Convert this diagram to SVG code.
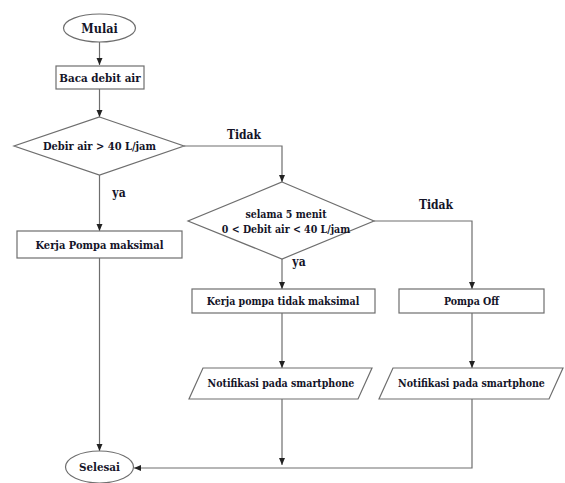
<svg xmlns="http://www.w3.org/2000/svg" width="565" height="483" viewBox="0 0 565 483">
<style>
.s{fill:#fff;stroke:#6e6e6e;stroke-width:1.2}
.t{font-family:'DejaVu Serif',serif;font-weight:700;fill:#141428;text-anchor:middle;font-stretch:condensed}
.c{fill:none;stroke:#6e6e6e;stroke-width:1.2}
</style>
<defs>
<marker id="a" markerWidth="8" markerHeight="8" refX="7" refY="4" orient="auto" markerUnits="userSpaceOnUse">
<path d="M0,1 L7,4 L0,7 Z" fill="#222"/>
</marker>
</defs>
<rect width="565" height="483" fill="#fff"/>
<g id="connectors">
<path class="c" d="M99.5,42 V65" marker-end="url(#a)"/>
<path class="c" d="M99.5,89 V117" marker-end="url(#a)"/>
<path class="c" d="M99.5,175 V231" marker-end="url(#a)"/>
<path class="c" d="M184,146 H282 V182" marker-end="url(#a)"/>
<path class="c" d="M99.5,258 V451" marker-end="url(#a)"/>
<path class="c" d="M282,259 V289" marker-end="url(#a)"/>
<path class="c" d="M374,221 H472 V289" marker-end="url(#a)"/>
<path class="c" d="M282,313 V368" marker-end="url(#a)"/>
<path class="c" d="M472,313 V368" marker-end="url(#a)"/>
<path class="c" d="M282,399 V465" marker-end="url(#a)"/>
<path class="c" d="M472,399 V468 H134" marker-end="url(#a)"/>
<text class="t" x="244" y="139" font-size="12">Tidak</text>
<text class="t" x="119" y="197" font-size="12">ya</text>
<text class="t" x="436" y="209" font-size="12">Tidak</text>
<text class="t" x="299" y="266" font-size="12">ya</text>
</g>
<g id="mulai">
<ellipse class="s" cx="99.5" cy="28" rx="36" ry="14"/>
<text class="t" x="99.5" y="33" font-size="12.5">Mulai</text>
</g>
<g id="baca">
<rect class="s" x="56" y="66" width="88" height="23" stroke="#555"/>
<text class="t" x="100" y="82" font-size="11.5">Baca debit air</text>
</g>
<g id="cek1">
<polygon class="s" points="99.5,117 184,146 99.5,175 14,146"/>
<text class="t" x="99.5" y="150" font-size="11">Debir air &gt; 40 L/jam</text>
</g>
<g id="maksimal">
<rect class="s" x="17" y="231" width="165" height="27"/>
<text class="t" x="99.5" y="249" font-size="11">Kerja Pompa maksimal</text>
</g>
<g id="cek2">
<polygon class="s" points="282,182 374,221 282,259 188,221"/>
<text class="t" x="286" y="218" font-size="10.5">selama 5 menit</text>
<text class="t" x="286" y="233" font-size="10.5">0 &lt; Debit air &lt; 40 L/jam</text>
</g>
<g id="tidakmaksimal">
<rect class="s" x="192" y="289" width="183" height="24"/>
<text class="t" x="283" y="305" font-size="10.5">Kerja pompa tidak maksimal</text>
</g>
<g id="pompaoff">
<rect class="s" x="399" y="289" width="145" height="24"/>
<text class="t" x="471.5" y="305" font-size="10.5">Pompa Off</text>
</g>
<g id="notif1">
<polygon class="s" points="203,368 372,368 358,399 189,399"/>
<text class="t" x="281" y="387" font-size="10.5">Notifikasi pada smartphone</text>
</g>
<g id="notif2">
<polygon class="s" points="393,368 563,368 549,399 379,399"/>
<text class="t" x="471.5" y="387" font-size="10.5">Notifikasi pada smartphone</text>
</g>
<g id="selesai">
<ellipse class="s" cx="99.5" cy="467" rx="34" ry="16"/>
<text class="t" x="99.5" y="471" font-size="11.5">Selesai</text>
</g>
</svg>
